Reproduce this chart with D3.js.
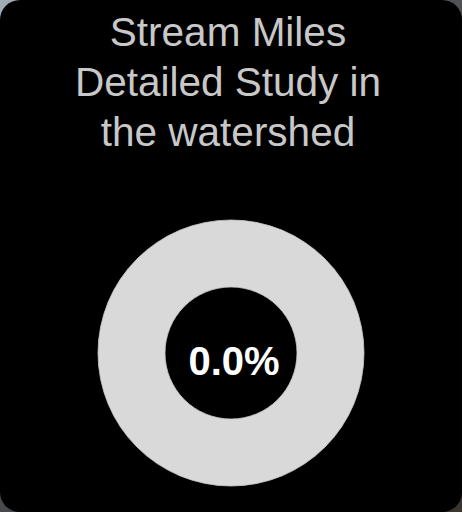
<!DOCTYPE html>
<html>
<head>
<meta charset="utf-8">
<script src="https://cdn.jsdelivr.net/npm/d3@7"></script>
<style>
  html, body { margin: 0; padding: 0; }
  body { width: 462px; height: 512px; overflow: hidden;
         background: linear-gradient(135deg, #a3adb6 0%, #5a5d60 40%, #2e2e30 70%, #3b352f 100%); }
  svg { display: block; }
</style>
</head>
<body>
<div id="chart"></div>
<script>
const titleLines = ["Stream Miles", "Detailed Study in", "the watershed"];
const categories = ["Detailed Study", "Remaining"];
const values = [0, 100];
const colors = ["#5b9bd5", "#d9d9d9"];
const centerLabel = "0.0%";

const W = 462, H = 512;
const svg = d3.select("#chart").append("svg").attr("width", W).attr("height", H);

svg.append("rect").attr("x", 0).attr("y", 0).attr("width", W).attr("height", H)
  .attr("rx", 20).attr("ry", 20).attr("fill", "#000");

const title = svg.append("text")
  .attr("x", 228).attr("y", 46)
  .attr("text-anchor", "middle")
  .attr("fill", "#c8c8c8")
  .style("font-family", "'Liberation Sans', Arial, sans-serif")
  .style("font-size", "40.5px");
titleLines.forEach((t, i) => {
  title.append("tspan").attr("x", 228).attr("dy", i === 0 ? 0 : 50).text(t);
});

const cx = 231, cy = 353, outerR = 133, innerR = 66;
const pie = d3.pie().sort(null).value(d => d.value);
const arc = d3.arc().innerRadius(innerR).outerRadius(outerR);
const data = categories.map((c, i) => ({ category: c, value: values[i] }));
const color = d3.scaleOrdinal().domain(categories).range(colors);

const g = svg.append("g").attr("transform", `translate(${cx},${cy})`);
g.selectAll("path").data(pie(data)).join("path")
  .attr("d", arc)
  .attr("fill", d => color(d.data.category))
  .attr("stroke", "#c8c8c8")
  .attr("stroke-width", 0.8);

g.append("text")
  .attr("x", 3).attr("y", 22)
  .attr("text-anchor", "middle")
  .attr("fill", "#ffffff")
  .style("font-family", "'Liberation Sans', Arial, sans-serif")
  .style("font-weight", "bold")
  .style("font-size", "40px")
  .text(centerLabel);
</script>
</body>
</html>
